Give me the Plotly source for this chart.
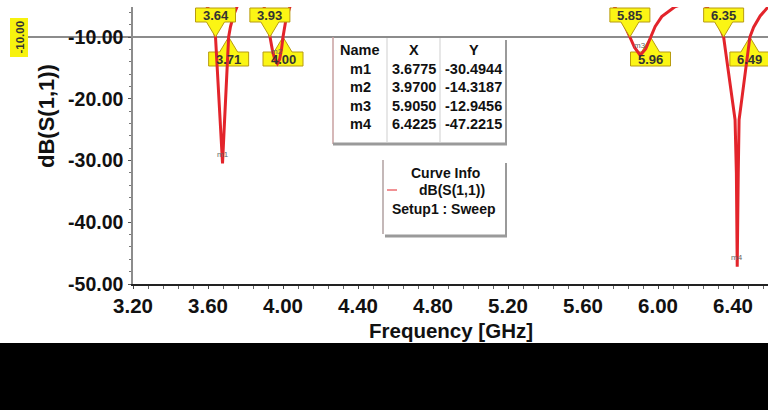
import plotly.graph_objects as go

# ---------------- data ----------------
freq_ghz = [3.20, 3.30, 3.40, 3.50, 3.56, 3.60, 3.62, 3.64, 3.650, 3.660, 3.668, 3.6775,
            3.686, 3.695, 3.703, 3.71, 3.72, 3.735, 3.755, 3.78, 3.82, 3.86, 3.88, 3.90,
            3.915, 3.93, 3.945, 3.958, 3.97, 3.982, 3.992, 4.00, 4.015, 4.037, 4.07, 4.15,
            4.30, 4.60, 5.00, 5.40, 5.60, 5.70, 5.76, 5.79, 5.817, 5.85, 5.875, 5.905,
            5.935, 5.96, 5.985, 6.02, 6.09, 6.15, 6.22, 6.26, 6.30, 6.33, 6.35, 6.359,
            6.373, 6.386, 6.40, 6.411, 6.418, 6.4225, 6.428, 6.4325, 6.443, 6.4557, 6.4685,
            6.481, 6.49, 6.51, 6.545, 6.585, 6.62]
s11_db = [-1.2, -1.5, -2.0, -2.8, -3.6, -5.3, -7.0, -10.0, -15.5, -21.0, -25.5, -30.49,
          -25.0, -18.5, -13.5, -10.0, -8.3, -6.6, -5.1, -3.9, -3.2, -3.3, -3.7, -5.2,
          -7.3, -10.0, -12.4, -13.8, -14.32, -13.6, -12.0, -10.0, -7.3, -5.1, -3.6, -2.5,
          -1.8, -1.4, -1.3, -1.6, -2.4, -3.2, -4.8, -6.0, -7.7, -10.0, -11.7, -12.95,
          -11.9, -10.0, -8.3, -6.7, -5.1, -4.5, -4.6, -5.1, -6.8, -8.5, -10.0, -12.0,
          -15.0, -18.0, -21.0, -23.4, -32.0, -47.22, -32.0, -23.4, -21.0, -18.0, -15.0,
          -12.0, -10.0, -8.4, -6.6, -5.2, -4.2]
assert len(freq_ghz) == len(s11_db)

marker_names = ["m1", "m2", "m3", "m4"]
marker_x = [3.6775, 3.9700, 5.9050, 6.4225]
marker_y = [-30.4944, -14.3187, -12.9456, -47.2215]
marker_text_shift = [9, 12, 10, 9]

threshold_db = -10.0
crossings = [3.64, 3.71, 3.93, 4.00, 5.85, 5.96, 6.35, 6.49]
crossing_side = ["up", "down", "up", "down", "up", "down", "up", "down"]

x_ticks = [3.20, 3.60, 4.00, 4.40, 4.80, 5.20, 5.60, 6.00, 6.40]
y_ticks = [-50, -40, -30, -20, -10]
x_tick_labels = [f"{v:.2f}" for v in x_ticks]
y_tick_labels = [f"{v:.2f}" for v in y_ticks]

# ---------------- geometry helpers (layout only) ----------------
W, H = 768, 410
L, R, T, B = 133, 0, 7, 126
PW, PH = W - L - R, H - T - B
def px(x): return (x - L) / PW
def py(y): return (H - B - y) / PH

FONT = "Liberation Sans, Arial, sans-serif"
RED = "#e3242b"

def txt(x, y, s, size, color="#111", bold=True, angle=0, xref="paper", yref="paper", yshift=0):
    return dict(xref=xref, yref=yref, x=x, y=y, text=s, showarrow=False, textangle=angle,
                xanchor="center", yanchor="middle", yshift=yshift,
                font=dict(family=FONT, size=size, color=color,
                          weight="bold" if bold else "normal"))

fig = go.Figure()
fig.add_trace(go.Scatter(x=freq_ghz, y=s11_db, mode="lines",
                         line=dict(color=RED, width=3), hoverinfo="skip"))

shapes = []
annotations = []

# -10 dB reference line
shapes.append(dict(type="line", xref="paper", yref="y", x0=px(28), x1=1,
                   y0=threshold_db, y1=threshold_db,
                   line=dict(color="#8c8c8c", width=2), layer="below"))
# yellow "-10.00" tag on the left
shapes.append(dict(type="rect", xref="paper", yref="paper", x0=px(10), x1=px(28),
                   y0=py(57), y1=py(18), fillcolor="#f7f20e", line=dict(width=0)))
annotations.append(txt(px(19.5), threshold_db, "-10.00", 11.5, color="#333", angle=-90, yref="y"))

# crossing call-outs
up_path = "M0,0 L-9,15 L-20,15 L-20,29 L20,29 L20,15 L9,15 Z"
dn_path = "M0,0 L9,-15 L20,-15 L20,-29 L-20,-29 L-20,-15 L-9,-15 Z"
for f, side in zip(crossings, crossing_side):
    shapes.append(dict(type="path", xref="x", yref="y", xsizemode="pixel", ysizemode="pixel",
                       xanchor=f, yanchor=threshold_db,
                       path=up_path if side == "up" else dn_path,
                       fillcolor="#fbf514", line=dict(color="#b89c10", width=1),
                       layer="above" if side == "up" else "below"))
    annotations.append(txt(f, threshold_db, f"{f:.2f}", 13, color="#333", xref="x", yref="y",
                           yshift=22 if side == "up" else -22))

# marker tags at the minima
for n, mx, my, sh in zip(marker_names, marker_x, marker_y, marker_text_shift):
    annotations.append(txt(mx, my, n, 8, color="#666", bold=False, xref="x", yref="y", yshift=sh))

# marker table
tl, tr, tt, tb = 333, 506, 37, 144
shapes.append(dict(type="line", xref="paper", yref="paper", x0=px(tl), x1=px(tl),
                   y0=py(tb), y1=py(tt), line=dict(color="#c9a0a0", width=1.5)))
shapes.append(dict(type="line", xref="paper", yref="paper", x0=px(tr), x1=px(tr),
                   y0=py(tb), y1=py(tt + 3), line=dict(color="#9a9a9a", width=2)))
shapes.append(dict(type="line", xref="paper", yref="paper", x0=px(tl), x1=px(tr + 1),
                   y0=py(tb), y1=py(tb), line=dict(color="#9a9a9a", width=3)))
for cx in (387, 440):
    shapes.append(dict(type="line", xref="paper", yref="paper", x0=px(cx), x1=px(cx),
                       y0=py(tb - 1), y1=py(tt + 1), line=dict(color="#cfcfcf", width=1)))
col_centers = [360, 413.5, 473.5]
row_y = [50, 69, 87, 106, 124]
rows = [["Name", "X", "Y"]] + [[n, f"{x:.4f}", f"{y:.4f}"]
                                for n, x, y in zip(marker_names, marker_x, marker_y)]
for ry, row in zip(row_y, rows):
    for cx, s in zip(col_centers, row):
        annotations.append(txt(px(cx), py(ry), s, 14.5))

# curve info box
cl, cr, ct, cb = 383, 506, 160, 236
shapes.append(dict(type="line", xref="paper", yref="paper", x0=px(cl), x1=px(cl),
                   y0=py(cb - 2), y1=py(ct), line=dict(color="#b0a0a0", width=1.5)))
shapes.append(dict(type="line", xref="paper", yref="paper", x0=px(cr), x1=px(cr),
                   y0=py(cb), y1=py(ct + 3), line=dict(color="#9a9a9a", width=2)))
shapes.append(dict(type="line", xref="paper", yref="paper", x0=px(cl + 2), x1=px(cr + 1),
                   y0=py(cb), y1=py(cb), line=dict(color="#9a9a9a", width=3)))
shapes.append(dict(type="line", xref="paper", yref="paper", x0=px(387), x1=px(397),
                   y0=py(190), y1=py(190), line=dict(color=RED, width=1)))
for s, cx, cy in (("Curve Info", 445, 173), ("dB(S(1,1))", 452, 190),
                  ("Setup1 : Sweep", 443, 209)):
    annotations.append(txt(px(cx), py(cy), s, 14))

# axis titles
annotations.append(txt(px(46), py(116), "dB(S(1,1))", 22, angle=-90))
annotations.append(txt(px(451), py(330), "Frequency [GHz]", 20.5))

# black band at the bottom
shapes.append(dict(type="rect", xref="paper", yref="paper", x0=px(0), x1=px(W),
                   y0=py(H + 2), y1=py(343), fillcolor="#000", line=dict(width=0)))

fig.update_layout(
    width=W, height=H, margin=dict(l=L, r=R, t=T, b=B, pad=0),
    paper_bgcolor="white", plot_bgcolor="white", showlegend=False,
    shapes=shapes, annotations=annotations,
    xaxis=dict(range=[3.2, 3.2 + PW / 187.5], tickvals=x_ticks, ticktext=x_tick_labels,
               showgrid=False, zeroline=False, showline=True, linecolor="#222", linewidth=1.5,
               ticks="outside", ticklen=3, tickcolor="#444", ticklabelstandoff=0,
               minor=dict(dtick=0.08, tick0=3.2, ticks="outside", ticklen=3, tickcolor="#666"),
               tickfont=dict(family=FONT, size=20.5, color="#111", weight="bold")),
    yaxis=dict(range=[-50, -10 + 30 / 6.175], tickvals=y_ticks, ticktext=y_tick_labels,
               showgrid=False, zeroline=False, showline=True, linecolor="#8c8c8c", linewidth=1.5,
               ticks="outside", ticklen=3, tickcolor="#555", ticklabelstandoff=1,
               minor=dict(dtick=2, ticks="outside", ticklen=2, tickcolor="#777"),
               tickfont=dict(family=FONT, size=19.5, color="#111", weight="bold")),
)

fig.write_html("out.html", config={"displayModeBar": False},
               post_script="document.body.style.margin='0';document.body.style.overflow='hidden';")
